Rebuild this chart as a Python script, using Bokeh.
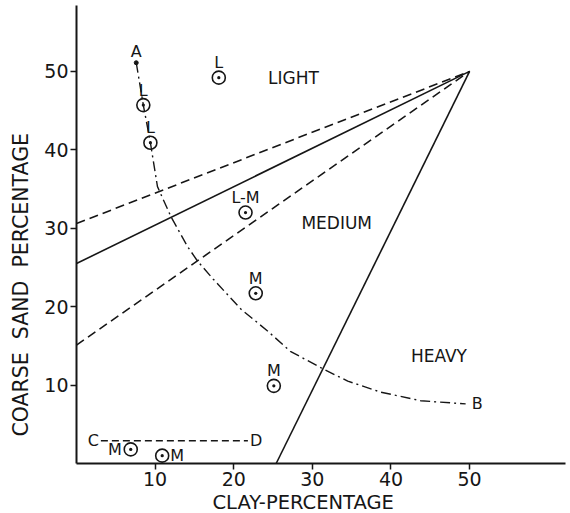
from bokeh.plotting import figure
from bokeh.models import Range1d, FixedTicker, Title
from bokeh.embed import file_html
from bokeh.resources import INLINE
from bokeh.core.properties import value

# ---------------- data ----------------
x_ticks = [10, 20, 30, 40, 50]
y_ticks = [10, 20, 30, 40, 50]

# soil samples: clay %, coarse sand %, grade label
upper_clay = [18.1, 8.5, 9.4, 21.5, 22.8, 25.1]
upper_sand = [49.2, 45.7, 40.9, 32.0, 21.7, 9.9]
upper_grade = ["L", "L", "L", "L-M", "M", "M"]

left_clay = [6.9]
left_sand = [1.8]
left_grade = ["M"]

right_clay = [10.9]
right_sand = [1.0]
right_grade = ["M"]

# dash-dot curve A-B
curve_clay = [7.6, 8.5, 9.4, 10.3, 12.0, 14.1, 15.4, 17.4, 20.9, 24.3, 27.2,
              31.3, 34.5, 38.7, 43.8, 49.5]
curve_sand = [51.1, 45.7, 40.9, 35.3, 31.5, 27.7, 25.8, 23.5, 19.7, 16.9, 14.3,
              12.1, 10.5, 9.1, 8.0, 7.6]

# dashed line C-D
cd_clay = [3.1, 21.8]
cd_sand = [2.9, 2.9]

# boundary lines meeting at (50, 50)
upper_dash_clay = [0, 50]
upper_dash_sand = [30.6, 50]
light_med_clay = [0, 50]
light_med_sand = [25.5, 50]
lower_dash_clay = [0, 50]
lower_dash_sand = [15.1, 50]
med_heavy_clay = [25.4, 50]
med_heavy_sand = [0, 50]

regions = ["LIGHT", "MEDIUM", "HEAVY"]
region_clay = [27.6, 33.1, 46.1]
region_sand = [49.1, 30.7, 13.7]

FONT = "DejaVu Sans"
INK = "#161616"

p = figure(width=570, height=513, output_backend="svg", toolbar_location=None,
           x_range=Range1d(0, 62.2), y_range=Range1d(0, 58.4),
           min_border_left=76, min_border_right=5, min_border_top=5,
           min_border_bottom=48, title=None)
p.outline_line_color = None
p.background_fill_color = "white"
p.border_fill_color = "white"
p.xgrid.visible = False
p.ygrid.visible = False

for ax, ticks in ((p.xaxis, x_ticks), (p.yaxis, y_ticks)):
    ax.ticker = FixedTicker(ticks=ticks)
    ax.minor_tick_line_color = None
    ax.axis_line_color = INK
    ax.axis_line_width = 2
    ax.major_tick_line_color = INK
    ax.major_tick_line_width = 1.5
    ax.major_tick_in = 0
    ax.major_tick_out = 6
    ax.major_label_standoff = 2
    ax.major_label_text_font = FONT
    ax.major_label_text_font_size = "19px"
    ax.major_label_text_color = INK

# axis titles, off-centre as in the original
p.add_layout(Title(text="COARSE \u00a0SAND \u00a0PERCENTAGE", align="left", offset=27,
                   standoff=14, vertical_align="top", text_font=FONT,
                   text_font_size="20.5px", text_font_style="normal",
                   text_color=INK), "left")
p.add_layout(Title(text="CLAY-PERCENTAGE", align="left", offset=136,
                   standoff=0, text_font=FONT, text_font_size="19.5px",
                   text_font_style="normal", text_color=INK), "below")

# boundary lines
p.line(upper_dash_clay, upper_dash_sand, line_color=INK, line_width=1.6, line_dash="9 5")
p.line(light_med_clay, light_med_sand, line_color=INK, line_width=1.6)
p.line(lower_dash_clay, lower_dash_sand, line_color=INK, line_width=1.6, line_dash="9 5")
p.line(med_heavy_clay, med_heavy_sand, line_color=INK, line_width=1.6)

# curve A-B and line C-D
p.line(curve_clay, curve_sand, line_color=INK, line_width=1.4, line_dash="10 4 2 4")
p.line(cd_clay, cd_sand, line_color=INK, line_width=1.4, line_dash="7 4")
p.scatter([curve_clay[0]], [curve_sand[0]], size=4, color=INK)

# sample points
all_clay = upper_clay + left_clay + right_clay
all_sand = upper_sand + left_sand + right_sand
p.scatter(all_clay, all_sand, marker="circle_dot", size=13, fill_color=None,
          line_color=INK, line_width=1.6)

p.text(upper_clay, upper_sand, text=upper_grade, y_offset=-15,
       text_align="center", text_baseline="middle", text_font=value(FONT),
       text_font_size="16px", text_color=INK)
p.text(left_clay, left_sand, text=left_grade, x_offset=-9,
       text_align="right", text_baseline="middle", text_font=value(FONT),
       text_font_size="16px", text_color=INK)
p.text(right_clay, right_sand, text=right_grade, x_offset=8,
       text_align="left", text_baseline="middle", text_font=value(FONT),
       text_font_size="16px", text_color=INK)

# end-point letters
p.text([curve_clay[0]], [curve_sand[0]], text=["A"], y_offset=-11,
       text_align="center", text_baseline="middle", text_font=value(FONT),
       text_font_size="16px", text_color=INK)
p.text([curve_clay[-1]], [curve_sand[-1]], text=["B"], x_offset=6,
       text_align="left", text_baseline="middle", text_font=value(FONT),
       text_font_size="16px", text_color=INK)
p.text([cd_clay[0]], [cd_sand[0]], text=["C"], x_offset=-2,
       text_align="right", text_baseline="middle", text_font=value(FONT),
       text_font_size="16px", text_color=INK)
p.text([cd_clay[1]], [cd_sand[1]], text=["D"], x_offset=2,
       text_align="left", text_baseline="middle", text_font=value(FONT),
       text_font_size="16px", text_color=INK)

# region names
p.text(region_clay, region_sand, text=regions, text_align="center",
       text_baseline="middle", text_font=value(FONT), text_font_size="17px",
       text_color=INK)

open("out.html", "w").write(file_html(p, INLINE))
